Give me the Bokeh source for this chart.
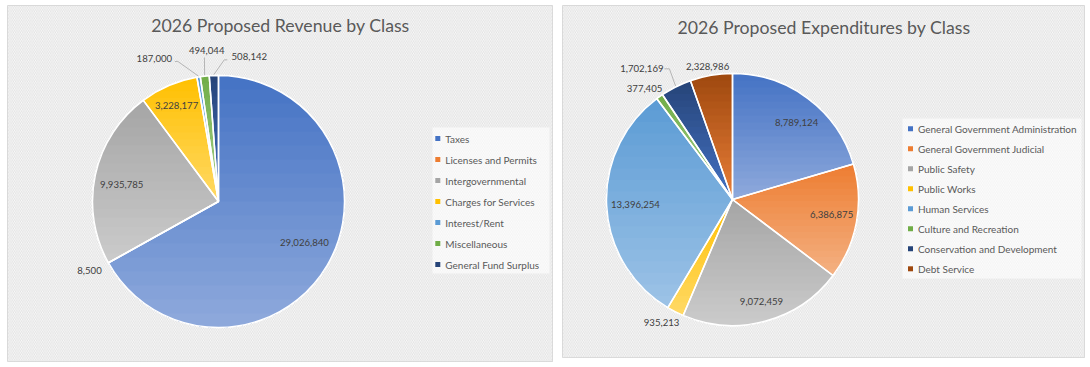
import numpy as np
from bokeh.plotting import figure
from bokeh.models import Range1d, BoxAnnotation, ColumnDataSource
from bokeh.layouts import row
from bokeh.embed import file_html
from bokeh.resources import INLINE
from bokeh.core.properties import value

# ---------------- data ----------------
rev_title = "2026 Proposed Revenue by Class"
rev_categories = ["Taxes", "Licenses and Permits", "Intergovernmental",
                  "Charges for Services", "Interest/Rent", "Miscellaneous",
                  "General Fund Surplus"]
rev_values = [29026840, 8500, 9935785, 3228177, 187000, 494044, 508142]

exp_title = "2026 Proposed Expenditures by Class"
exp_categories = ["General Government Administration", "General Government Judicial",
                  "Public Safety", "Public Works", "Human Services",
                  "Culture and Recreation", "Conservation and Development",
                  "Debt Service"]
exp_values = [8789124, 6386875, 9072459, 935213, 13396254, 377405, 1702169, 2328986]

# ---------------- styles ----------------
rev_top = ["#4472C4", "#ED7D31", "#A5A5A5", "#FFC000", "#5B9BD5", "#70AD47", "#264478"]
rev_bot = ["#8FAADC", "#F4B183", "#CBCBCB", "#FFD966", "#9DC3E6", "#A9D18E", "#4472C4"]
exp_top = ["#4472C4", "#ED7D31", "#A5A5A5", "#FFC000", "#5B9BD5", "#70AD47", "#264478", "#9E480E"]
exp_bot = ["#8FAADC", "#F4B183", "#CBCBCB", "#FFD966", "#9DC3E6", "#A9D18E", "#4472C4", "#E97E38"]

# label placement: radius factor and angle nudge (degrees) from the slice mid-angle
rev_label_k = [0.756, 1.161, 0.78, 0.832, 1.242, 1.202, 1.176]
rev_label_nudge = [4.9, -1.0, 2.1, 0.3, 15.1, -1.8, -14.1]
# leader lines: (anchor dx, anchor dy, elbow dx) relative to the label centre
rev_leaders = [None, None, None, None, (20.5, -2.7, 3), (-2.3, -7, 0), (-22, -3.3, -3)]

exp_label_k = [0.795, 0.795, 0.841, 1.127, 0.771, 1.124, 1.262, 1.076]
exp_label_nudge = [-2.94, 1.73, 0.95, -3.0, -0.06, 3.06, 8.1, 0.85]
exp_leaders = [None, None, None, None, None, None, (22.5, 0, 5), None]

FONT = "Lato"
TITLE_COLOR = "#595959"
LABEL_COLOR = "#404040"
LEGEND_COLOR = "#595959"


def hex2rgb(h):
    h = h.lstrip("#")
    return np.array([int(h[i:i + 2], 16) for i in (0, 2, 4)], dtype=float)


def mix(c1, c2, t):
    a, b = hex2rgb(c1), hex2rgb(c2)
    c = np.round(a + (b - a) * t).astype(int)
    return "#%02x%02x%02x" % tuple(c)


def slice_polygon(cx, cy, r, a0, a1):
    n = max(3, int(np.ceil(abs(a0 - a1) / np.radians(0.8))) + 1)
    th = np.linspace(a0, a1, n)
    xs = np.concatenate([[cx], cx + r * np.cos(th)])
    ys = np.concatenate([[cy], cy + r * np.sin(th)])
    return xs, ys


def clip_below(xs, ys, yc):
    ox, oy = [], []
    n = len(xs)
    for i in range(n):
        x1, y1 = xs[i - 1], ys[i - 1]
        x2, y2 = xs[i], ys[i]
        in1, in2 = y1 <= yc, y2 <= yc
        if in2:
            if not in1:
                t = (yc - y1) / (y2 - y1)
                ox.append(x1 + t * (x2 - x1)); oy.append(yc)
            ox.append(x2); oy.append(y2)
        elif in1:
            t = (yc - y1) / (y2 - y1)
            ox.append(x1 + t * (x2 - x1)); oy.append(yc)
    return ox, oy


def make_pie(title, cats, vals, tops, bots, width, height, margin, cx, cy, r,
             title_x, title_y, label_k, label_nudge, leaders,
             leg_x, leg_y0, leg_step, leg_box):
    p = figure(width=width, height=height, x_range=Range1d(0, width),
               y_range=Range1d(0, height), output_backend="svg",
               toolbar_location=None, min_border=0, margin=margin,
               x_axis_location=None, y_axis_location=None, tools="")
    p.grid.visible = False
    p.background_fill_color = "#fafafa"
    p.border_fill_color = "#fafafa"
    p.outline_line_color = "#d9d9d9"
    p.outline_line_width = 1

    # hatched background
    p.add_layout(BoxAnnotation(level="underlay", fill_alpha=0, line_alpha=0,
                               hatch_pattern="\\", hatch_color="#dcdcdc",
                               hatch_scale=3.5, hatch_weight=0.8))

    vals = np.array(vals, dtype=float)
    frac = vals / vals.sum()
    cum = np.concatenate([[0.0], np.cumsum(frac)])
    start = np.pi / 2 - 2 * np.pi * cum[:-1]
    end = np.pi / 2 - 2 * np.pi * cum[1:]
    mid = (start + end) / 2

    src = ColumnDataSource(dict(cat=cats, start=start, end=end, color=tops))
    p.wedge(x=cx, y=cy, radius=r, start_angle="start", end_angle="end",
            direction="clock", fill_color="color", line_color="white",
            line_width=1.5, source=src)

    # vertical gradient in each slice
    gx, gy, gc = [], [], []
    N = 18
    for i in range(len(cats)):
        xs, ys = slice_polygon(cx, cy, r, start[i], end[i])
        ytop, ybot = ys.max(), ys.min()
        for k in range(N):
            yc = ytop - (ytop - ybot) * k / N
            ox, oy = clip_below(xs, ys, yc + (0.5 if k == 0 else 0))
            if len(ox) >= 3:
                gx.append(ox); gy.append(oy)
                gc.append(mix(tops[i], bots[i], (k + 0.5) / N))
    p.patches(xs=gx, ys=gy, fill_color=gc, line_color=None)

    # white separators on top
    p.wedge(x=cx, y=cy, radius=r, start_angle="start", end_angle="end",
            direction="clock", fill_color=None, line_color="white",
            line_width=1.5, source=src)

    # data labels
    ang = mid + np.radians(label_nudge)
    kk = np.array(label_k)
    lx = cx + kk * r * np.cos(ang)
    ly = cy + kk * r * np.sin(ang)
    labels = [f"{int(v):,}" for v in vals]
    p.text(x=lx, y=ly, text=labels, text_align="center", text_baseline="middle",
           text_font=value(FONT), text_font_size="9.6px", text_color=LABEL_COLOR)

    # leader lines
    lxs, lys = [], []
    for i, ld in enumerate(leaders):
        if ld is None:
            continue
        ax, ay, ex = ld
        px0, py0 = lx[i] + ax, ly[i] + ay
        ex_x = px0 + ex
        sx = cx + (r + 1) * np.cos(mid[i])
        sy = cy + (r + 1) * np.sin(mid[i])
        lxs.append([px0, ex_x, sx]); lys.append([py0, py0, sy])
    if lxs:
        p.multi_line(xs=lxs, ys=lys, line_color="#a6a6a6", line_width=0.8)

    # title
    p.text(x=[title_x], y=[title_y], text=[title], text_align="center",
           text_baseline="middle", text_font=value(FONT), text_font_size="17.7px",
           text_color=TITLE_COLOR)

    # legend
    l, rr, b, t = leg_box
    p.add_layout(BoxAnnotation(left=l, right=rr, bottom=b, top=t, fill_color="white",
                               fill_alpha=0.6, line_alpha=0, level="underlay"))
    ly_leg = leg_y0 - leg_step * np.arange(len(cats))
    p.scatter(x=[leg_x] * len(cats), y=ly_leg, marker="square", size=5,
              fill_color=tops, line_color=None)
    p.text(x=[leg_x + 7.5] * len(cats), y=ly_leg, text=cats, text_align="left",
           text_baseline="middle", text_font=value(FONT), text_font_size="10px",
           text_color=LEGEND_COLOR)
    return p


left = make_pie(rev_title, rev_categories, rev_values, rev_top, rev_bot,
                546, 357, (5, 0, 0, 7), 211, 161, 126, 273, 337,
                rev_label_k, rev_label_nudge, rev_leaders,
                430.3, 224, 21, (425, 542, 89, 235))
right = make_pie(exp_title, exp_categories, exp_values, exp_top, exp_bot,
                 523, 353, (5, 0, 0, 9), 170, 159, 126, 261.5, 331.5,
                 exp_label_k, exp_label_nudge, exp_leaders,
                 348, 229.7, 20, (340, 519, 80, 240))

layout = row(left, right)
open("out.html", "w").write(file_html(layout, INLINE))
